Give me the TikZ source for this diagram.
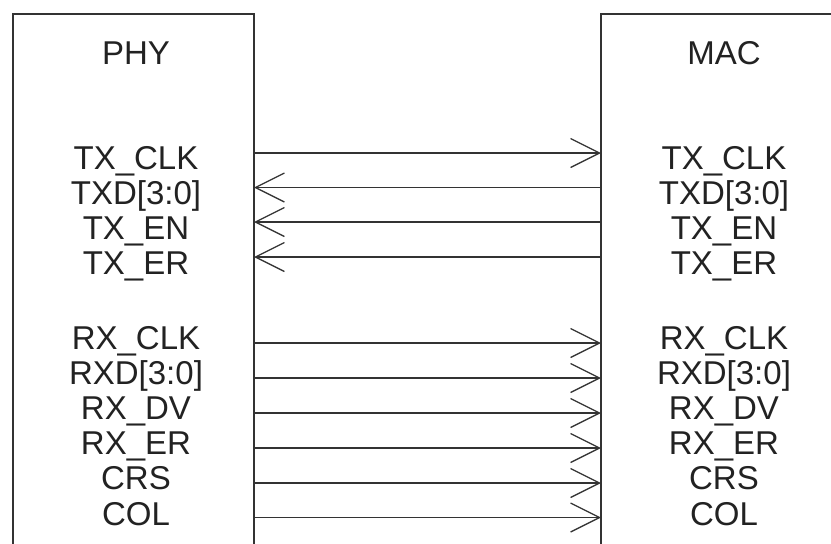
\documentclass[tikz,border=0pt]{standalone}
\usepackage{fontspec}
\setmainfont{Liberation Sans}
\usetikzlibrary{arrows.meta}
\definecolor{ink}{HTML}{222222}
\definecolor{wire}{HTML}{333333}
\tikzset{
  boxline/.style={draw=wire,line width=1.6pt},
  lbl/.style={anchor=base,inner sep=0pt,text=ink,font=\fontsize{33}{36}\selectfont},
  sig/.style={draw=wire,line width=1.3pt,-{Straight Barb[length=29pt,width=29pt,line width=1.3pt]}},
}
\begin{document}
\begin{tikzpicture}[x=1pt,y=-1pt]
\useasboundingbox (0,0) rectangle (831,544);
\begin{scope}
\clip (0,0) rectangle (831,544);
% boxes
\draw[boxline] (13,600) -- (13,14) -- (254,14) -- (254,600);
\draw[boxline] (601,600) -- (601,14) -- (900,14);
% titles
\node[lbl] (phy) at (136,64) {PHY};
\node[lbl] (mac) at (724,64) {MAC};
% left labels
\foreach \t/\n/\y in {TX\_CLK/a/169,TXD[3:0]/b/204,TX\_EN/c/239,TX\_ER/d/274,
  RX\_CLK/e/349.5,RXD[3:0]/f/384.6,RX\_DV/g/419.7,RX\_ER/h/454.8,CRS/i/489.9,COL/j/525}{
  \node[lbl] (L\n) at (136,\y) {\t};
  \node[lbl] (R\n) at (724,\y) {\t};
}
% connector end points on box edges
\foreach \n/\y in {a/153,b/187.5,c/222,d/257,e/343,f/378,g/413,h/448,i/483,j/517.5}{
  \coordinate (p\n) at (254,\y);
  \coordinate (m\n) at (601,\y);
}
\draw[sig] (pa) -- (ma);
\draw[sig] (mb) -- (pb);
\draw[sig] (mc) -- (pc);
\draw[sig] (md) -- (pd);
\foreach \n in {e,f,g,h,i,j}{ \draw[sig] (p\n) -- (m\n); }
\end{scope}
\end{tikzpicture}
\end{document}
